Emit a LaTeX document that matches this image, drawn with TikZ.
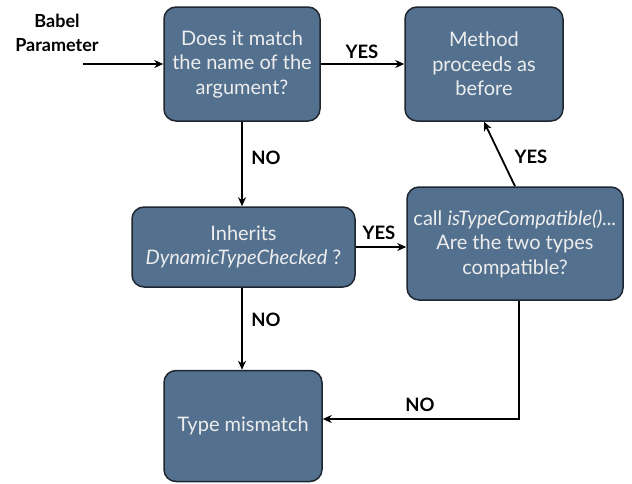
\documentclass[tikz,border=0pt]{standalone}
\usepackage{fontspec}
\setmainfont{Lato}
\usetikzlibrary{arrows.meta}
\definecolor{boxfill}{HTML}{53718F}
\definecolor{boxtext}{HTML}{EDEDED}
\definecolor{boxline}{HTML}{1E2630}
\begin{document}
\begin{tikzpicture}[x=1pt,y=-1pt,
  box/.style={draw=boxline, line width=1.5pt, fill=boxfill, rounded corners=12pt,
    text=boxtext, align=center, font=\fontsize{20}{24.5}\selectfont, inner sep=2pt},
  lab/.style={font=\fontsize{18.5}{21}\selectfont\bfseries, text=black},
  conn/.style={line width=1.8pt, -{Stealth[length=9pt,width=8pt]}}]
\useasboundingbox (0,0) rectangle (632,483);
\node[box, minimum width=156pt, minimum height=114pt] (b1) at (242,64)
  {Does it match\\the name of the\\argument?};
\node[box, minimum width=158pt, minimum height=114pt] (b2) at (484,64)
  {Method\\proceeds as\\before};
\node[box, minimum width=216pt, minimum height=113pt] (b3) at (515,243.5)
  {call \textit{isTypeCompatible()...}\\Are the two types\\compatible?};
\node[box, minimum width=223pt, minimum height=80pt] (b4) at (243.5,247)
  {Inherits\\\textit{DynamicTypeChecked} ?};
\node[box, minimum width=158pt, minimum height=111pt] (b5) at (243,426)
  {Type mismatch};
\node[lab, align=center, font=\fontsize{18}{24}\selectfont\bfseries] (bp) at (57,33) {Babel\\Parameter};
\coordinate (s) at (83,64);
\coordinate (c) at (519,419);
\draw[conn] (s) -- (b1.west);
\draw[conn] (b1.east) -- (b2.west);
\draw[conn] (b1.south) -- (b1.south |- b4.north);
\draw[conn] (b4.east) -- (b4.east -| b3.west);
\draw[conn] (b3.north) -- (b2.south);
\draw[conn] (b1.south |- b4.south) -- (b1.south |- b5.north);
\draw[conn] (b3.south -| c) -- (c) -- (c -| b5.east);
\node[lab] (y1) at (362,52) {YES};
\node[lab] (n1) at (266,158) {NO};
\node[lab] (y2) at (379,233) {YES};
\node[lab] (y3) at (531,157) {YES};
\node[lab] (n2) at (266,320) {NO};
\node[lab] (n3) at (420,405) {NO};
\end{tikzpicture}
\end{document}
